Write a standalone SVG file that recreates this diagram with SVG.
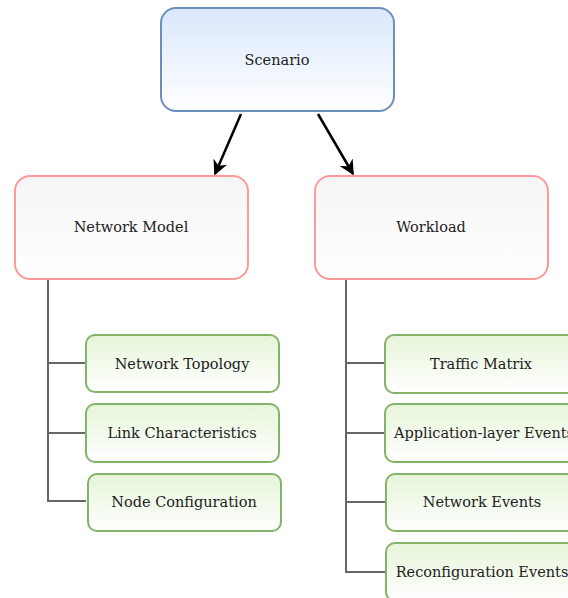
<svg xmlns="http://www.w3.org/2000/svg" width="568" height="598" viewBox="0 0 568 598">
<defs>
<linearGradient id="gBlue" x1="0" y1="0" x2="0" y2="1"><stop offset="0" stop-color="#dae8fc"/><stop offset="1" stop-color="#ffffff"/></linearGradient>
<linearGradient id="gGray" x1="0" y1="0" x2="0" y2="1"><stop offset="0" stop-color="#f5f5f5"/><stop offset="1" stop-color="#ffffff"/></linearGradient>
<linearGradient id="gGreen" x1="0" y1="0" x2="0" y2="1"><stop offset="0" stop-color="#e6f5d9"/><stop offset="1" stop-color="#ffffff"/></linearGradient>
<marker id="arr" viewBox="0 0 10 10" refX="9" refY="5" markerWidth="6" markerHeight="6" orient="auto" markerUnits="strokeWidth"><path d="M0,0 L10,5 L0,10 L3,5 Z" fill="#000"/></marker>
<style>
text{font-family:"DejaVu Serif","Liberation Serif",serif;font-size:14.5px;fill:#222;text-anchor:middle;dominant-baseline:central}
.blue{fill:url(#gBlue);stroke:#6c8ebf;stroke-width:2}
.red{fill:url(#gGray);stroke:#ff9999;stroke-width:2}
.green{fill:url(#gGreen);stroke:#82b366;stroke-width:2}
.tree{stroke:#666;stroke-width:2;fill:none}
.arrow{stroke:#000;stroke-width:2.5;fill:none}
</style>
</defs>
<g id="connectors">
<line class="arrow" x1="241" y1="114" x2="215" y2="174" marker-end="url(#arr)"/>
<line class="arrow" x1="318" y1="114" x2="353" y2="174" marker-end="url(#arr)"/>
<path class="tree" d="M48,279 V501 H86 M48,363 H86 M48,433 H86"/>
<path class="tree" d="M346,279 V572 H385 M346,363 H385 M346,433 H385 M346,502 H385"/>
</g>
<g id="scenario"><rect class="blue" x="161" y="8" width="233" height="103" rx="15"/><text x="277" y="60">Scenario</text></g>
<g id="network-model"><rect class="red" x="15" y="176" width="233" height="103" rx="15"/><text x="131" y="227">Network Model</text></g>
<g id="workload"><rect class="red" x="315" y="176" width="233" height="103" rx="15"/><text x="431" y="227">Workload</text></g>
<g id="network-topology"><rect class="green" x="86" y="335" width="193" height="57" rx="9"/><text x="182" y="364">Network Topology</text></g>
<g id="link-characteristics"><rect class="green" x="86" y="404" width="193" height="58" rx="9"/><text x="182" y="433">Link Characteristics</text></g>
<g id="node-configuration"><rect class="green" x="88" y="474" width="193" height="57" rx="9"/><text x="184" y="502">Node Configuration</text></g>
<g id="traffic-matrix"><rect class="green" x="385" y="335" width="193" height="58" rx="9"/><text x="481" y="364">Traffic Matrix</text></g>
<g id="application-layer-events"><rect class="green" x="385" y="404" width="193" height="58" rx="9"/><text x="484" y="433">Application-layer Events</text></g>
<g id="network-events"><rect class="green" x="386" y="474" width="193" height="57" rx="9"/><text x="482" y="502">Network Events</text></g>
<g id="reconfiguration-events"><rect class="green" x="386" y="543" width="193" height="58" rx="9"/><text x="482" y="572">Reconfiguration Events</text></g>
</svg>
